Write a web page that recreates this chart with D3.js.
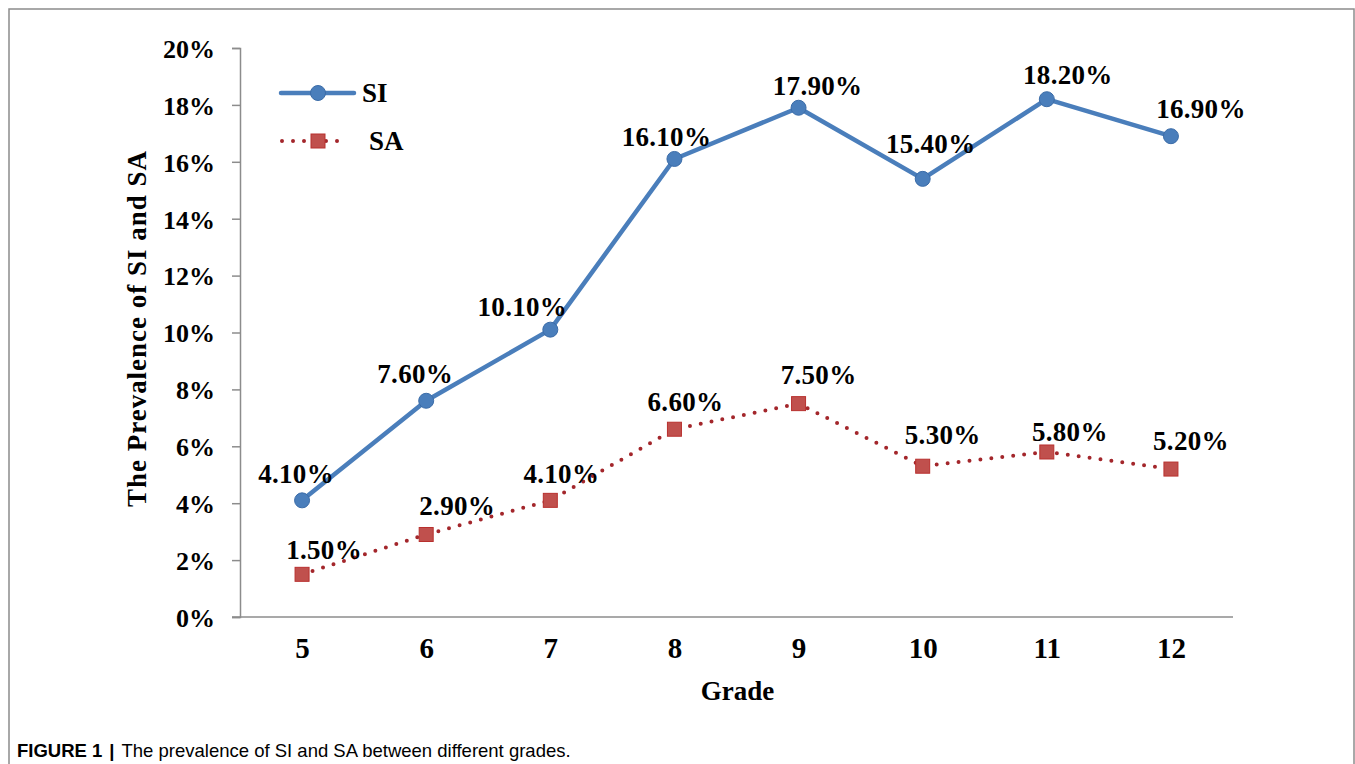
<!DOCTYPE html>
<html>
<head>
<meta charset="utf-8">
<script src="https://cdn.jsdelivr.net/npm/d3@7"></script>
<style>
body { margin: 0; background: #fff; }
svg { display: block; }
text { font-family: "Liberation Serif", "Times New Roman", serif; font-weight: bold; fill: #000; }
</style>
</head>
<body>
<svg id="chart"></svg>
<script>
var grades = ["5", "6", "7", "8", "9", "10", "11", "12"];
var siValues = [0.041, 0.076, 0.101, 0.161, 0.179, 0.154, 0.182, 0.169];
var saValues = [0.015, 0.029, 0.041, 0.066, 0.075, 0.053, 0.058, 0.052];
var siLabels = ["4.10%", "7.60%", "10.10%", "16.10%", "17.90%", "15.40%", "18.20%", "16.90%"];
var saLabels = ["1.50%", "2.90%", "4.10%", "6.60%", "7.50%", "5.30%", "5.80%", "5.20%"];
var yTicks = [0, 0.02, 0.04, 0.06, 0.08, 0.10, 0.12, 0.14, 0.16, 0.18, 0.20];

var screen = {width: 1355, height: 764};
var plot = {left: 240, right: 1233, top: 48, bottom: 617};

// label nudges so they sit like the original excel labels
var siNudge = [[-6,-17],[-11,-18],[-28,-14],[-8,-13],[19,-13],[8,-26],[21,-15],[30,-18]];
var saNudge = [[22,-15],[31,-19],[11,-17],[11,-18],[20,-20],[20,-22],[23,-11],[20,-19]];

var blue = "#4a7ebb";
var red = "#c0504d";
var dotRed = "#a3262b";

var svg = d3.select("#chart")
    .attr("width", screen.width)
    .attr("height", screen.height);

// frame
svg.append("rect")
    .attr("x", 9).attr("y", 9)
    .attr("width", 1345).attr("height", 800)
    .attr("fill", "none")
    .attr("stroke", "#8c8c8c")
    .attr("stroke-width", 1.5);

var xScale = d3.scalePoint().domain(grades).range([plot.left, plot.right]).padding(0.5);
var yScale = d3.scaleLinear().domain([0, 0.20]).range([plot.bottom, plot.top]);

var yAxis = d3.axisLeft(yScale)
    .tickValues(yTicks)
    .tickFormat(function(d) { return Math.round(d * 100) + "%"; })
    .tickSize(8)
    .tickPadding(17);

var gy = svg.append("g")
    .attr("transform", "translate(" + plot.left + ",0)")
    .call(yAxis);
gy.select(".domain").attr("stroke", "#8c8c8c").attr("stroke-width", 1.5);
gy.selectAll(".tick line").attr("stroke", "#8c8c8c").attr("stroke-width", 1.5);
gy.selectAll(".tick text")
    .attr("font-size", 26)
    .attr("font-family", "Liberation Serif, Times New Roman, serif")
    .attr("font-weight", "bold")
    .attr("fill", "#000")
    .attr("dy", "0.36em");

var xAxis = d3.axisBottom(xScale).tickSize(0).tickPadding(20);
var gx = svg.append("g")
    .attr("transform", "translate(0," + plot.bottom + ")")
    .call(xAxis);
gx.select(".domain").remove();
gx.append("line")
    .attr("x1", plot.left - 8).attr("x2", plot.right)
    .attr("stroke", "#8c8c8c").attr("stroke-width", 1.5);
gx.selectAll(".tick text")
    .attr("font-size", 29)
    .attr("font-family", "Liberation Serif, Times New Roman, serif")
    .attr("font-weight", "bold")
    .attr("fill", "#000")
    .attr("dy", "0.71em");

// axis titles
svg.append("text")
    .attr("x", (plot.left + plot.right) / 2 + 1)
    .attr("y", 700)
    .attr("text-anchor", "middle")
    .attr("font-size", 27)
    .text("Grade");

svg.append("text")
    .attr("transform", "translate(146,329) rotate(-90)")
    .attr("text-anchor", "middle")
    .attr("font-size", 27)
    .attr("textLength", 356)
    .attr("lengthAdjust", "spacing")
    .text("The Prevalence of  SI and SA");

var line = d3.line()
    .x(function(d, i) { return xScale(grades[i]); })
    .y(function(d) { return yScale(d); });

// SA dotted line + squares
svg.append("path")
    .datum(saValues)
    .attr("d", line)
    .attr("fill", "none")
    .attr("stroke", dotRed)
    .attr("stroke-width", 4)
    .attr("stroke-linecap", "round")
    .attr("stroke-dasharray", "0 11");

svg.selectAll(".sa-pt")
    .data(saValues)
    .enter().append("rect")
    .attr("class", "sa-pt")
    .attr("x", function(d, i) { return xScale(grades[i]) - 7; })
    .attr("y", function(d) { return yScale(d) - 7; })
    .attr("width", 14).attr("height", 14)
    .attr("fill", red)
    .attr("stroke", "#b8302e")
    .attr("stroke-width", 1);

// SI solid line + circles
svg.append("path")
    .datum(siValues)
    .attr("d", line)
    .attr("fill", "none")
    .attr("stroke", blue)
    .attr("stroke-width", 4.5)
    .attr("stroke-linejoin", "round");

svg.selectAll(".si-pt")
    .data(siValues)
    .enter().append("circle")
    .attr("class", "si-pt")
    .attr("cx", function(d, i) { return xScale(grades[i]); })
    .attr("cy", function(d) { return yScale(d); })
    .attr("r", 7.5)
    .attr("fill", blue)
    .attr("stroke", "#3b6ca8")
    .attr("stroke-width", 1);

// data labels
svg.selectAll(".si-lab")
    .data(siValues)
    .enter().append("text")
    .attr("class", "si-lab")
    .attr("x", function(d, i) { return xScale(grades[i]) + siNudge[i][0]; })
    .attr("y", function(d, i) { return yScale(d) + siNudge[i][1]; })
    .attr("text-anchor", "middle")
    .attr("font-size", 27)
    .attr("letter-spacing", 0.3)
    .text(function(d, i) { return siLabels[i]; });

svg.selectAll(".sa-lab")
    .data(saValues)
    .enter().append("text")
    .attr("class", "sa-lab")
    .attr("x", function(d, i) { return xScale(grades[i]) + saNudge[i][0]; })
    .attr("y", function(d, i) { return yScale(d) + saNudge[i][1]; })
    .attr("text-anchor", "middle")
    .attr("font-size", 27)
    .attr("letter-spacing", 0.3)
    .text(function(d, i) { return saLabels[i]; });

// legend
var legend = svg.append("g");
legend.append("line")
    .attr("x1", 281).attr("x2", 354).attr("y1", 93).attr("y2", 93)
    .attr("stroke", blue).attr("stroke-width", 4.5).attr("stroke-linecap", "round");
legend.append("circle")
    .attr("cx", 318).attr("cy", 93).attr("r", 7.5)
    .attr("fill", blue).attr("stroke", "#3b6ca8");
legend.append("text")
    .attr("x", 362).attr("y", 102)
    .attr("font-size", 27)
    .text("SI");

legend.append("line")
    .attr("x1", 282).attr("x2", 348).attr("y1", 141).attr("y2", 141)
    .attr("stroke", dotRed).attr("stroke-width", 4)
    .attr("stroke-linecap", "round").attr("stroke-dasharray", "0 11");
legend.append("rect")
    .attr("x", 311).attr("y", 134).attr("width", 14).attr("height", 14)
    .attr("fill", red).attr("stroke", "#b8302e");
legend.append("text")
    .attr("x", 369).attr("y", 150)
    .attr("font-size", 27)
    .text("SA");

// caption
var cap = svg.append("text")
    .attr("x", 17).attr("y", 757)
    .attr("font-size", 18.5)
    .style("font-family", "Liberation Sans, Arial, sans-serif");
cap.append("tspan").attr("font-weight", "bold").text("FIGURE 1");
cap.append("tspan").attr("font-weight", "bold").attr("dx", 7).text("|");
cap.append("tspan").attr("font-weight", "normal").attr("dx", 7).text("The prevalence of SI and SA between different grades.");
</script>
</body>
</html>
